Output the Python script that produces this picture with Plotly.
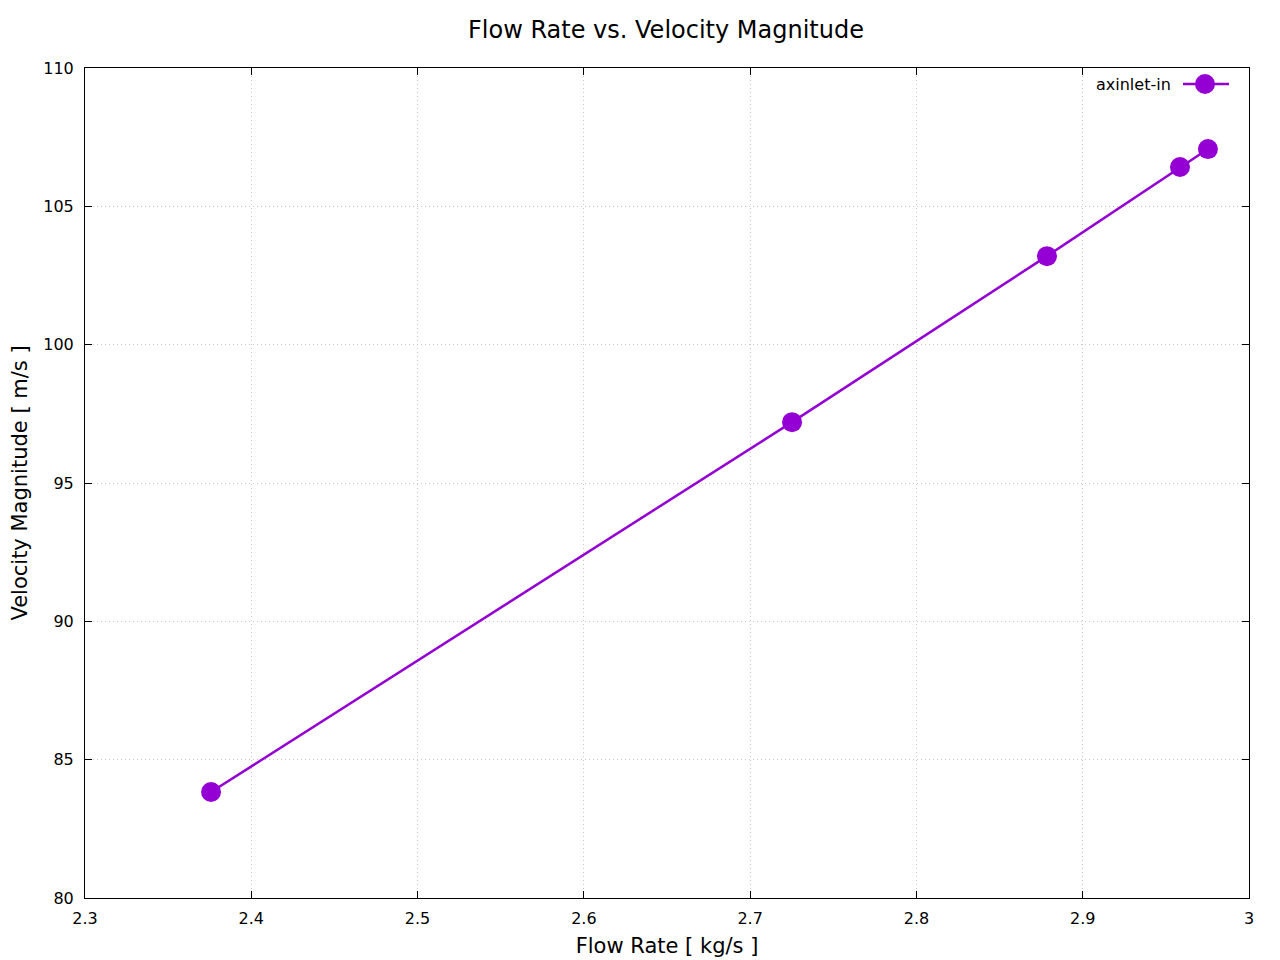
import plotly.graph_objects as go

flow_rate = [2.3758, 2.7252, 2.8785, 2.9585, 2.9753]
velocity = [83.83, 97.2, 103.2, 106.42, 107.07]
series_name = "axinlet-in"
x_ticks = [2.3, 2.4, 2.5, 2.6, 2.7, 2.8, 2.9, 3.0]
x_ticktext = ["2.3", "2.4", "2.5", "2.6", "2.7", "2.8", "2.9", "3"]
color = "#9400D3"

OFF = 8  # page body margin
W, H = 1280 - OFF, 960 - OFF
L, R, T, B = 85 - OFF, 31, 68 - OFF, 62
pw, ph = W - L - R, H - T - B

fig = go.Figure()
fig.add_trace(go.Scatter(
    x=flow_rate, y=velocity, mode="lines+markers", name=series_name,
    line=dict(color=color, width=2.5),
    marker=dict(color=color, size=20),
    showlegend=False,
))

def px_x(p):
    return (p - OFF - L) / pw

def px_y(p):
    return (H - B - (p - OFF)) / ph

# legend sample (gnuplot style: text then sample)
ly = px_y(84)
fig.add_shape(type="line", xref="paper", yref="paper",
              x0=px_x(1183), x1=px_x(1229), y0=ly, y1=ly,
              line=dict(color=color, width=2.5))
rx, ry = 10 / pw, 10 / ph
fig.add_shape(type="circle", xref="paper", yref="paper",
              x0=px_x(1205) - rx, x1=px_x(1205) + rx, y0=ly - ry, y1=ly + ry,
              fillcolor=color, line=dict(color=color, width=0))
fig.add_annotation(xref="paper", yref="paper", x=px_x(1173), y=ly,
                   xanchor="right", yanchor="middle", showarrow=False,
                   text=series_name, font=dict(size=16, color="black"))

axis_common = dict(
    showline=True, linecolor="black", linewidth=1, mirror="ticks",
    ticks="inside", ticklen=7, tickcolor="black", tickwidth=1,
    showgrid=True, gridcolor="#c8c8c8", griddash="1px,3px", gridwidth=1,
    zeroline=False, tickfont=dict(size=16, color="black"), automargin=False,
)

fig.update_layout(
    width=W, height=H,
    margin=dict(l=L, r=R, t=T, b=B),
    paper_bgcolor="white", plot_bgcolor="white",
    font=dict(family="DejaVu Sans", color="black"),
    title=dict(text="Flow Rate vs. Velocity Magnitude", x=(666 - OFF) / W, xanchor="center",
               y=1 - (30 - OFF) / H, yanchor="middle", font=dict(size=24)),
    xaxis=dict(range=[2.3, 3.0], tickvals=x_ticks, ticktext=x_ticktext,
               ticklabelstandoff=6,
               title=dict(text="Flow Rate [ kg/s ]", font=dict(size=21), standoff=11),
               **axis_common),
    yaxis=dict(range=[80, 110], dtick=5, ticklabelstandoff=7,
               title=dict(text="Velocity Magnitude [ m/s ]", font=dict(size=21), standoff=10),
               **axis_common),
)

fig.write_html("out.html")
